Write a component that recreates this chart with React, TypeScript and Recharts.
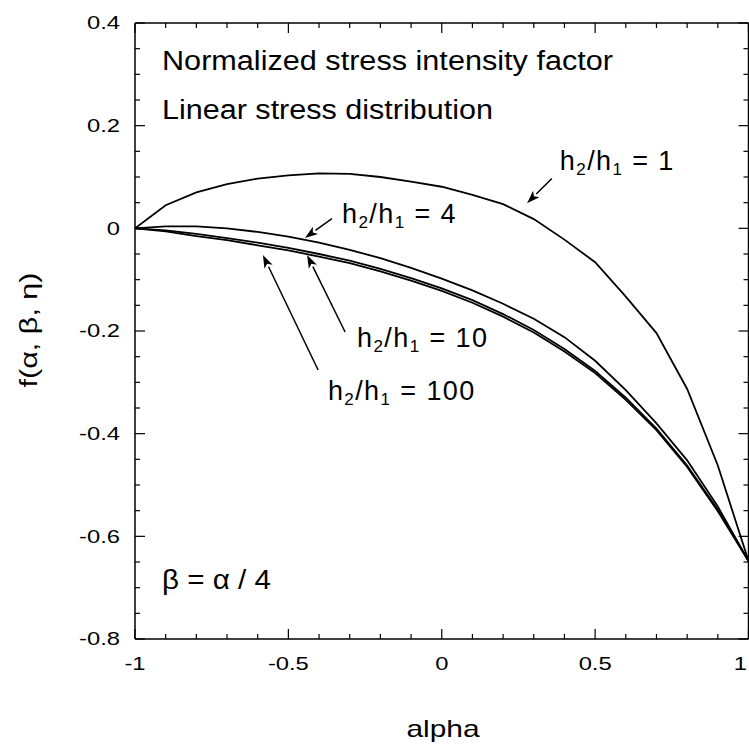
import React from 'react'
import {
  ComposedChart,
  Line,
  Scatter,
  XAxis,
  YAxis,
  ReferenceLine,
} from 'recharts'

// alpha values (x axis)
const alpha = [-1, -0.9, -0.8, -0.7, -0.6, -0.5, -0.4, -0.3, -0.2, -0.1, 0, 0.1, 0.2, 0.3, 0.4, 0.5, 0.6, 0.7, 0.8, 0.9, 1]

// f(alpha, beta, eta) for each h2/h1
const fH1 = [0, 0.045, 0.07, 0.086, 0.097, 0.103, 0.107, 0.106, 0.1, 0.091, 0.081, 0.065, 0.047, 0.018, -0.022, -0.066, -0.133, -0.204, -0.313, -0.462, -0.648]
const fH4 = [0, 0.004, 0.004, 0, -0.007, -0.016, -0.028, -0.042, -0.058, -0.077, -0.098, -0.121, -0.147, -0.176, -0.212, -0.258, -0.315, -0.38, -0.452, -0.542, -0.648]
const fH10 = [0, -0.004, -0.011, -0.019, -0.028, -0.038, -0.05, -0.063, -0.079, -0.097, -0.117, -0.14, -0.167, -0.198, -0.235, -0.278, -0.33, -0.39, -0.462, -0.548, -0.648]
const fH100 = [0, -0.006, -0.015, -0.023, -0.033, -0.043, -0.055, -0.068, -0.084, -0.102, -0.122, -0.145, -0.172, -0.203, -0.24, -0.282, -0.334, -0.393, -0.465, -0.551, -0.648]

const xTicks = [-1, -0.9, -0.8, -0.7, -0.6, -0.5, -0.4, -0.3, -0.2, -0.1, 0, 0.1, 0.2, 0.3, 0.4, 0.5, 0.6, 0.7, 0.8, 0.9, 1]
const xMajor = [-1, -0.5, 0, 0.5, 1]
const yTicks = [-0.8, -0.75, -0.7, -0.65, -0.6, -0.55, -0.5, -0.45, -0.4, -0.35, -0.3, -0.25, -0.2, -0.15, -0.1, -0.05, 0, 0.05, 0.1, 0.15, 0.2, 0.25, 0.3, 0.35, 0.4]
const yMajor = [-0.8, -0.6, -0.4, -0.2, 0, 0.2, 0.4]

// curve labels: ratio, text anchor, arrow tail and tip (data coords)
const ratios = ['1', '4', '10', '100']
const labelX = [0.385, -0.325, -0.276, -0.371]
const labelY = [0.113, 0.01, -0.231, -0.334]
const arrowFrom = [[0.359, 0.097], [-0.358, 0.019], [-0.315, -0.202], [-0.403, -0.276]]
const arrowTo = [[0.278, 0.049], [-0.446, -0.019], [-0.439, -0.052], [-0.583, -0.052]]

// free text inside the plot
const notes = ['Normalized stress intensity factor', 'Linear stress distribution', 'β = α / 4']
const noteX = [-0.912, -0.912, -0.912]
const noteY = [0.309, 0.213, -0.703]
const noteLen = [451, 331, 109]

const data = alpha.map((a, i) => ({ alpha: a, h1: fH1[i], h4: fH4[i], h10: fH10[i], h100: fH100[i] }))
const labelData = ratios.map((r, i) => ({ alpha: labelX[i], f: labelY[i], r }))
const noteData = notes.map((t, i) => ({ alpha: noteX[i], f: noteY[i], t, len: noteLen[i] }))

const FONT = '"Liberation Sans", Arial, Helvetica, sans-serif'
const PLOT_LEFT = 135
const PLOT_RIGHT = 748.5
const PLOT_TOP = 23
const PLOT_BOTTOM = 639

const near = (v: number, list: number[]) => list.some(m => Math.abs(m - v) < 1e-6)

const XTick = (props: any) => {
  const { x, payload } = props
  const v = payload.value
  const major = near(v, xMajor)
  const len = major ? 10 : 5
  // last label would fall off the page edge, keep it inside
  const last = v >= 1
  return (
    <g>
      <line x1={x} x2={x} y1={PLOT_BOTTOM} y2={PLOT_BOTTOM - len} stroke="#000" strokeWidth={1.2} />
      <line x1={x} x2={x} y1={PLOT_TOP} y2={PLOT_TOP + len} stroke="#000" strokeWidth={1.2} />
      {major && (
        <text
          transform={`translate(${last ? 747 : x} 670) scale(1.25 1)`}
          textAnchor={last ? 'end' : 'middle'}
          fontSize={19}
          fontFamily={FONT}
          fill="#000"
        >
          {String(v)}
        </text>
      )}
    </g>
  )
}

const YTick = (props: any) => {
  const { y, payload } = props
  const v = payload.value
  const major = near(v, yMajor)
  const len = major ? 10 : 5
  return (
    <g>
      <line x1={PLOT_LEFT} x2={PLOT_LEFT + len} y1={y} y2={y} stroke="#000" strokeWidth={1.2} />
      <line x1={PLOT_RIGHT - len} x2={PLOT_RIGHT} y1={y} y2={y} stroke="#000" strokeWidth={1.2} />
      {major && (
        <text
          transform={`translate(120 ${y}) scale(1.25 1)`}
          textAnchor="end"
          dominantBaseline="central"
          fontSize={19}
          fontFamily={FONT}
          fill="#000"
        >
          {String(Math.round(v * 10) / 10)}
        </text>
      )}
    </g>
  )
}

const XTitle = () => (
  <text transform="translate(443 737) scale(1.3 1)" textAnchor="middle" fontSize={23} fontFamily={FONT} fill="#000">
    alpha
  </text>
)

const YTitle = () => (
  <text
    x={0}
    y={0}
    transform="translate(37 330) rotate(-90)"
    textAnchor="middle"
    fontSize={23}
    fontFamily={FONT}
    fill="#000"
    textLength={115}
    lengthAdjust="spacingAndGlyphs"
  >
    f(α, β, η)
  </text>
)

const RatioLabel = (props: any) => {
  const { cx, cy, payload } = props
  return (
    <text x={cx} y={cy} fontSize={27} fontFamily={FONT} fill="#000" letterSpacing={1.4}>
      h<tspan fontSize={17} dy={5}>2</tspan>
      <tspan dy={-5}>/h</tspan>
      <tspan fontSize={17} dy={5}>1</tspan>
      <tspan dy={-5}>{` = ${payload.r}`}</tspan>
    </text>
  )
}

const NoteLabel = (props: any) => {
  const { cx, cy, payload } = props
  return (
    <text
      x={cx}
      y={cy}
      fontSize={27}
      fontFamily={FONT}
      fill="#000"
      textLength={payload.len}
      lengthAdjust="spacingAndGlyphs"
    >
      {payload.t}
    </text>
  )
}

const Arrow = (props: any) => {
  const { x1, y1, x2, y2 } = props
  const ang = Math.atan2(y2 - y1, x2 - x1)
  const hl = 13
  const hw = 4.5
  const bx = x2 - hl * Math.cos(ang)
  const by = y2 - hl * Math.sin(ang)
  const px = -Math.sin(ang) * hw
  const py = Math.cos(ang) * hw
  return (
    <g>
      <line x1={x1} y1={y1} x2={bx} y2={by} stroke="#000" strokeWidth={1.5} />
      <polygon
        points={`${x2},${y2} ${bx + px},${by + py} ${bx + hl * 0.25 * Math.cos(ang)},${by + hl * 0.25 * Math.sin(ang)} ${bx - px},${by - py}`}
        fill="#000"
      />
    </g>
  )
}

export default function App() {
  return (
    <div style={{ position: 'absolute', left: 0, top: 0, width: 749, height: 747, overflow: 'hidden', background: '#fff' }}>
      <ComposedChart
        width={750}
        height={747}
        data={data}
        margin={{ top: PLOT_TOP, right: 1.5, bottom: 68, left: 75 }}
      >
        <XAxis
          dataKey="alpha"
          type="number"
          domain={[-1, 1]}
          ticks={xTicks}
          interval={0}
          allowDataOverflow
          height={40}
          tickLine={false}
          axisLine={{ stroke: '#000', strokeWidth: 1.5 }}
          tick={<XTick />}
          label={<XTitle />}
        />
        <YAxis
          type="number"
          domain={[-0.8, 0.4]}
          ticks={yTicks}
          interval={0}
          allowDataOverflow
          width={60}
          tickLine={false}
          axisLine={{ stroke: '#000', strokeWidth: 1.5 }}
          tick={<YTick />}
          label={<YTitle />}
        />
        <ReferenceLine y={0.4} stroke="#000" strokeWidth={1.5} />
        <ReferenceLine x={1} stroke="#000" strokeWidth={1.5} />

        <Line dataKey="h1" stroke="#000" strokeWidth={1.8} dot={false} isAnimationActive={false} />
        <Line dataKey="h4" stroke="#000" strokeWidth={1.8} dot={false} isAnimationActive={false} />
        <Line dataKey="h10" stroke="#000" strokeWidth={1.8} dot={false} isAnimationActive={false} />
        <Line dataKey="h100" stroke="#000" strokeWidth={1.8} dot={false} isAnimationActive={false} />

        {ratios.map((r, i) => (
          <ReferenceLine
            key={r}
            segment={[
              { x: arrowFrom[i][0], y: arrowFrom[i][1] },
              { x: arrowTo[i][0], y: arrowTo[i][1] },
            ]}
            ifOverflow="visible"
            shape={<Arrow />}
          />
        ))}

        <Scatter data={labelData} dataKey="f" shape={<RatioLabel />} isAnimationActive={false} />
        <Scatter data={noteData} dataKey="f" shape={<NoteLabel />} isAnimationActive={false} />
      </ComposedChart>
    </div>
  )
}
